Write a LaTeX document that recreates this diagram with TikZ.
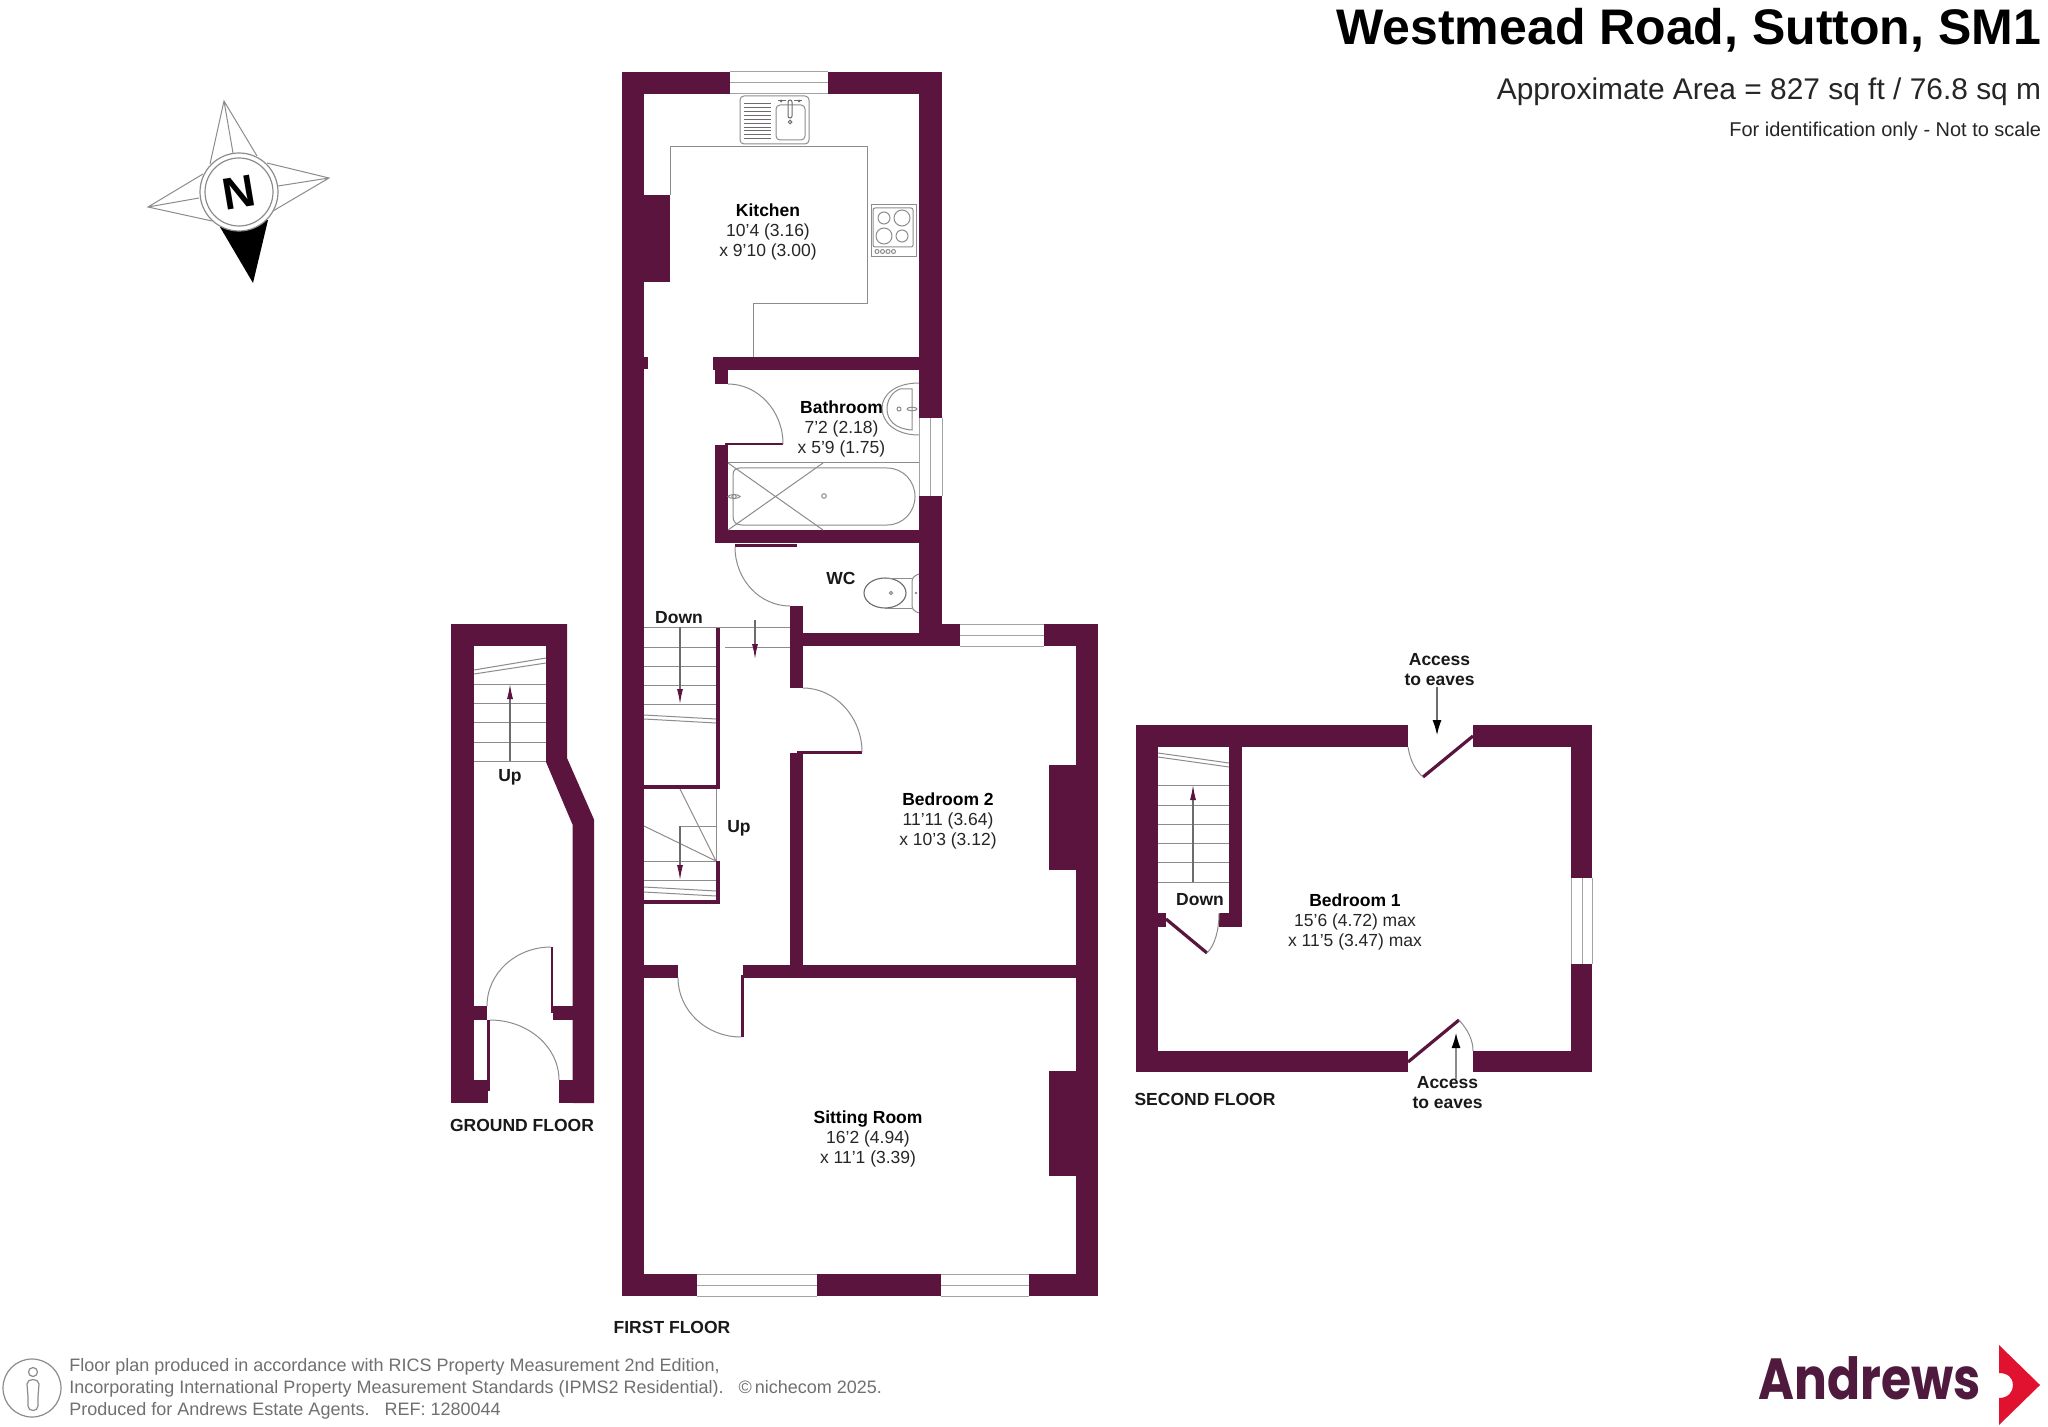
\documentclass[tikz,border=0pt]{standalone}
\usepackage{fontspec}
\setmainfont{Liberation Sans}
\newfontfamily\logofont{Poppins}
\usetikzlibrary{arrows.meta}
\definecolor{wallc}{HTML}{5A143E}
\definecolor{linec}{HTML}{8C8C8C}
\definecolor{darkl}{HTML}{6E6A70}
\definecolor{dimc}{HTML}{262626}
\definecolor{footc}{HTML}{707070}
\definecolor{logoc}{HTML}{4F1A3E}
\definecolor{redc}{HTML}{E0122F}
\tikzset{
  wall/.style={fill=wallc,draw=none},
  thin line/.style={draw=linec,line width=0.5pt},
  fixture/.style={draw=linec,line width=0.5pt},
  winline/.style={draw=linec!80,line width=0.5pt},
  stairarrow/.style={draw=darkl,line width=0.55pt,-{Latex[length=7.5pt,width=3pt,color=wallc]}},
  room/.style={inner sep=0pt,align=center,yshift=-0.75pt,text=dimc,font=\fontsize{8.75}{10.05}\selectfont},
  bold label/.style={inner sep=0pt,align=center,yshift=-0.75pt,text=black!90,font=\fontsize{8.75}{10.05}\selectfont\bfseries},
  footer/.style={inner sep=0pt,anchor=west,yshift=-0.6pt,text=footc,font=\fontsize{9.0}{10}\selectfont},
}
\begin{document}
\begin{tikzpicture}[x=0.5pt,y=-0.5pt]
\useasboundingbox (0,0) rectangle (2048,1427);
\fill[white] (0,0) rectangle (2048,1427);

% ---------- first floor walls
\fill[wall] (622,72) rectangle (730,94);
\fill[wall] (828,72) rectangle (942,94);
\fill[wall] (622,72) rectangle (644,1296);
\fill[wall] (919,72) rectangle (942,418);
\fill[wall] (919,496) rectangle (942,646);
\fill[wall] (644,195) rectangle (670,282);
\fill[wall] (644,357) rectangle (648,369);
\fill[wall] (713,357) rectangle (919,370);
\fill[wall] (715,370) rectangle (728,384);
\fill[wall] (725,443.5) rectangle (783,445.5);
\fill[wall] (715,445) rectangle (728,543);
\fill[wall] (715,530) rectangle (919,543);
\fill[wall] (735,544) rectangle (797,547);
\fill[wall] (790,606) rectangle (803,688);
\fill[wall] (790,633) rectangle (960,646);
\fill[wall] (919,624) rectangle (960,646);
\fill[wall] (1044,624) rectangle (1098,646);
\fill[wall] (1076,624) rectangle (1098,1296);
\fill[wall] (1049,765) rectangle (1076,870);
\fill[wall] (1049,1071) rectangle (1076,1176);
\fill[wall] (622,1274) rectangle (697,1296);
\fill[wall] (817,1274) rectangle (941,1296);
\fill[wall] (1029,1274) rectangle (1098,1296);
\fill[wall] (790,753) rectangle (803,978);
\fill[wall] (797,751) rectangle (862,754);
\fill[wall] (743,965) rectangle (1076,978);
\fill[wall] (644,965) rectangle (678,978);
\fill[wall] (741,975) rectangle (744,1037);
\fill[wall] (716,627) rectangle (720,789);
\fill[wall] (644,785) rectangle (720,789);
\fill[wall] (716,861) rectangle (720,904);
\fill[wall] (644,900) rectangle (720,904);

% first floor windows
\draw[winline] (730,72) -- (828,72) (730,83) -- (828,83) (730,94) -- (828,94);
\draw[winline] (919,418) -- (919,496) (930,418) -- (930,496) (942,418) -- (942,496);
\draw[winline] (960,624) -- (1044,624) (960,635) -- (1044,635) (960,646) -- (1044,646);
\draw[winline] (697,1274) -- (817,1274) (697,1285) -- (817,1285) (697,1296) -- (817,1296);
\draw[winline] (941,1274) -- (1029,1274) (941,1285) -- (1029,1285) (941,1296) -- (1029,1296);

% door swings
\draw[fixture] (728,384) .. controls (758,384) and (783,411) .. (783,444);
\draw[fixture] (735,547) .. controls (735,580) and (760,606) .. (790,606);
\draw[fixture] (803,688) .. controls (835,688) and (862,717) .. (862,752);
\draw[fixture] (678,978) .. controls (678,1010) and (706,1037) .. (741,1037);

% kitchen worktop outline
\draw[thin line] (670,195) -- (670,147) -- (867,147) -- (867,304) -- (753,304) -- (753,357);
% sink
\draw[fixture,rounded corners=2pt] (740,96) rectangle (809,144);
\draw[fixture,rounded corners=2pt] (776,105) rectangle (805,140);
\foreach \yy in {104,107.8,111.7,115.6,119.4,123.3,127.2,131,135,139}
  \draw[darkl,line width=0.5pt] (744,\yy) -- (771,\yy);
\draw[darkl,line width=0.5pt,rounded corners=1pt] (788,100) rectangle (792,118);
\draw[darkl,line width=0.5pt] (790,122) circle[radius=1.8];
\draw[darkl,line width=0.5pt] (778,101) -- (786,101) (794,101) -- (802,101);
\fill[darkl] (781,101) circle[radius=1.5] (799,101) circle[radius=1.5];
% hob
\draw[fixture] (871,205) rectangle (916,257);
\draw[fixture,rounded corners=1pt] (873,208) rectangle (913,247);
\draw[fixture] (884,218) circle[radius=6];
\draw[fixture] (902,218) circle[radius=8];
\draw[fixture] (884,236) circle[radius=8];
\draw[fixture] (902,236) circle[radius=6];
\foreach \xx in {877,882.5,888,893.5}
  \draw[fixture] (\xx,251.5) circle[radius=2];

% basin
\draw[fixture] (919,383) .. controls (895,383) and (882,395) .. (882,408) .. controls (882,422) and (895,435) .. (919,435);
\draw[fixture] (912,389) -- (900,389) .. controls (892,392) and (887,400) .. (887,409) .. controls (887,420) and (895,429) .. (912,430) -- cycle;
\draw[fixture] (899,409) circle[radius=2];
\draw[fixture] (912,409) ellipse[x radius=5,y radius=1.8];
% bath
\draw[fixture] (728,463) -- (919,463);
\draw[fixture] (740,468) -- (887,468) .. controls (903,468) and (915,481) .. (915,496.5) .. controls (915,512) and (903,525) .. (887,525) -- (742,525) .. controls (736,525) and (733,522) .. (733,516) -- (733,475) .. controls (733,470) and (736,468) .. (740,468) -- cycle;
\draw[fixture] (728,463) -- (823,530) (823,463) -- (728,530);
\draw[fixture] (824,496) circle[radius=2.3];
\draw[fixture] (734,496.5) ellipse[x radius=6,y radius=1.8];
\draw[fixture] (734,496.5) circle[radius=2.2];
% wc
\draw[darkl,line width=0.55pt] (885,593) ellipse[x radius=21,y radius=15];
\draw[fixture] (885,578) -- (912,578) (885,608) -- (912,608);
\draw[fixture,rounded corners=2pt] (919,574) -- (912,577) -- (912,610) -- (919,613);
\draw[fixture] (891,593) circle[radius=1.6];
\fill[linec] (916,593) circle[radius=1.3];

% upper stairs
\draw[fixture] (644,627) -- (790,627) (725,647) -- (790,647);
\foreach \yy in {647,666,685,704} \draw[fixture] (644,\yy) -- (716,\yy);
\draw[fixture] (644,715) -- (716,719) (644,719) -- (716,723);
\draw[stairarrow] (680,627) -- (680,704);
\draw[stairarrow] (755,620) -- (755,659);
% lower stairs
\draw[fixture] (716,789) -- (716,861);
\draw[fixture] (680,789) -- (716,861) (644,826) -- (716,861);
\draw[fixture] (716,826) -- (680,826);
\draw[fixture] (644,861) -- (716,861) (644,880) -- (716,880);
\draw[stairarrow] (680,826) -- (680,880);
\draw[fixture] (644,887) -- (716,891) (644,892) -- (716,896);

% ---------- ground floor walls
\fill[wall] (451,624) rectangle (474,1103);
\fill[wall] (451,624) rectangle (567,646);
\fill[wall] (546,624) -- (567,624) -- (567,758) -- (594,819.5) -- (594,1103) -- (572.5,1103) -- (572.5,824.5) -- (546,762) -- cycle;
\fill[wall] (474,1006) rectangle (487,1020);
\fill[wall] (553,1006) rectangle (572.5,1020);
\fill[wall] (550.5,947) rectangle (553,1013);
\fill[wall] (487,1020) rectangle (490,1091);
\fill[wall] (451,1080) rectangle (488,1103);
\fill[wall] (559,1080) rectangle (594,1103);
\draw[fixture] (487,1006) .. controls (487,973) and (516,947) .. (551,947);
\draw[fixture] (490,1020) .. controls (528,1020) and (559,1047) .. (559,1080);
\foreach \yy in {684,703.6,722.5,742,761} \draw[fixture] (474,\yy) -- (546,\yy);
\draw[fixture] (474,670) -- (546,658) (474,674) -- (546,663);
\draw[stairarrow] (510,761) -- (510,684);

% ---------- second floor walls
\fill[wall] (1136,725) rectangle (1408,747);
\fill[wall] (1473,725) rectangle (1592,747);
\fill[wall] (1136,725) rectangle (1158,1072);
\fill[wall] (1136,1051) rectangle (1408,1072);
\fill[wall] (1473,1051) rectangle (1592,1072);
\fill[wall] (1571,725) rectangle (1592,878);
\fill[wall] (1571,964) rectangle (1592,1072);
\fill[wall] (1229,747) rectangle (1242,927);
\fill[wall] (1219,913) rectangle (1242,927);
\fill[wall] (1158,913) rectangle (1166,927);
\draw[winline] (1571,878) -- (1571,964) (1582,878) -- (1582,964) (1592,878) -- (1592,964);
\draw[wallc,line width=1.6pt] (1166,919) -- (1207,953);
\draw[fixture] (1207,953) .. controls (1215,945) and (1219,930) .. (1219,913);
\draw[wallc,line width=1.6pt] (1473,736) -- (1423,777);
\draw[fixture] (1423,777) .. controls (1415,770) and (1410,760) .. (1408,747);
\draw[wallc,line width=1.6pt] (1408,1062) -- (1459,1020);
\draw[fixture] (1459,1020) .. controls (1468,1030) and (1473,1040) .. (1473,1051);
\foreach \yy in {785,805,824,843,862,882} \draw[fixture] (1158,\yy) -- (1229,\yy);
\draw[fixture] (1158,753) -- (1229,763) (1158,757) -- (1229,767);
\draw[stairarrow] (1193,882) -- (1193,785);
\draw[draw=darkl,line width=0.55pt,-{Latex[length=7.5pt,width=4.5pt,color=black]}] (1437,687) -- (1437,735);
\draw[draw=linec,line width=0.6pt,-{Latex[length=7.5pt,width=4.5pt,color=black]}] (1456,1079) -- (1456,1033);

% ---------- room labels
\node[room] (kitchen) at (768,230.5) {\textbf{\textcolor{black}{Kitchen}}\\10'4 (3.16)\\x 9'10 (3.00)};
\node[room] (bathroom) at (841.5,427.5) {\textbf{\textcolor{black}{Bathroom}}\\7'2 (2.18)\\x 5'9 (1.75)};
\node[bold label] (wc) at (841,577) {WC};
\node[bold label] (down1) at (679,616) {Down};
\node[bold label] (up1) at (739,826.5) {Up};
\node[room] (bed2) at (948,819.5) {\textbf{\textcolor{black}{Bedroom 2}}\\11'11 (3.64)\\x 10'3 (3.12)};
\node[room] (sitting) at (868,1137.5) {\textbf{\textcolor{black}{Sitting Room}}\\16'2 (4.94)\\x 11'1 (3.39)};
\node[bold label] (up0) at (510,776) {Up};
\node[bold label] (gf) at (522,1124) {GROUND FLOOR};
\node[bold label] (ff) at (672,1326) {FIRST FLOOR};
\node[bold label] (sf) at (1205,1098) {SECOND FLOOR};
\node[room] (bed1) at (1355,920.5) {\textbf{\textcolor{black}{Bedroom 1}}\\15'6 (4.72) max\\x 11'5 (3.47) max};
\node[bold label] (down2) at (1200,898) {Down};
\node[bold label] (eaves1) at (1439.5,668) {Access\\to eaves};
\node[bold label] (eaves2) at (1447.5,1091) {Access\\to eaves};

% ---------- header
\node[inner sep=0pt,anchor=east,font=\fontsize{25}{28}\selectfont\bfseries] (title) at (2041.5,30) {Westmead Road, Sutton, SM1};
\node[inner sep=0pt,anchor=east,text=dimc,font=\fontsize{14.95}{17}\selectfont] (area) at (2041.5,92) {Approximate Area = 827 sq ft / 76.8 sq m};
\node[inner sep=0pt,anchor=east,text=dimc,font=\fontsize{9.98}{11}\selectfont] (note) at (2041.5,131) {For identification only - Not to scale};

% ---------- compass
\draw[fixture] (210,164) -- (224,101) -- (257,156) (224,101) -- (233,153);
\draw[fixture] (267,163) -- (329,178) -- (273,211) (329,178) -- (278,186);
\draw[fixture] (203,174) -- (148,207) -- (212,221) (148,207) -- (199,198);
\fill[black] (220,227) -- (268,220) -- (253,283) -- cycle;
\draw[fill=white,draw=linec,line width=0.6pt] (239,192) circle[radius=39];
\draw[linec,line width=0.6pt] (239,192) circle[radius=34];
\node[inner sep=0pt,rotate=9.5,font=\fontsize{22.5}{24}\selectfont\bfseries] (north) at (239,193) {N};

% ---------- footer
\node[footer] (f1) at (69,1366) {Floor plan produced in accordance with RICS Property Measurement 2nd Edition,};
\node[footer] (f2) at (69,1388) {Incorporating International Property Measurement Standards (IPMS2 Residential).~~~©\,nichecom 2025.};
\node[footer] (f3) at (69,1410) {Produced for Andrews Estate Agents.~~~REF: 1280044};
\draw[linec,line width=0.6pt] (32,1388) circle[radius=29];
\draw[linec,line width=0.6pt] (33,1372) circle[radius=4.5];
\draw[linec,line width=0.6pt] (27,1384) .. controls (27,1378) and (39,1378) .. (39,1384) -- (38,1397) -- (38,1406) .. controls (38,1412) and (28,1412) .. (28,1406) -- (28,1397) -- cycle;

% ---------- logo
\node[inner sep=0pt,anchor=base west,text=logoc,font=\logofont\fontsize{29}{32}\selectfont\bfseries] (logo) at (1758,1399) {\scalebox{0.84}[1]{Andrews}};
\fill[redc] (1999,1345) -- (2040,1385) -- (1999,1425) -- (1999,1398) .. controls (2008,1398) and (2013,1392) .. (2013,1385) .. controls (2013,1378) and (2008,1373) .. (1999,1373) -- cycle;
\end{tikzpicture}
\end{document}
